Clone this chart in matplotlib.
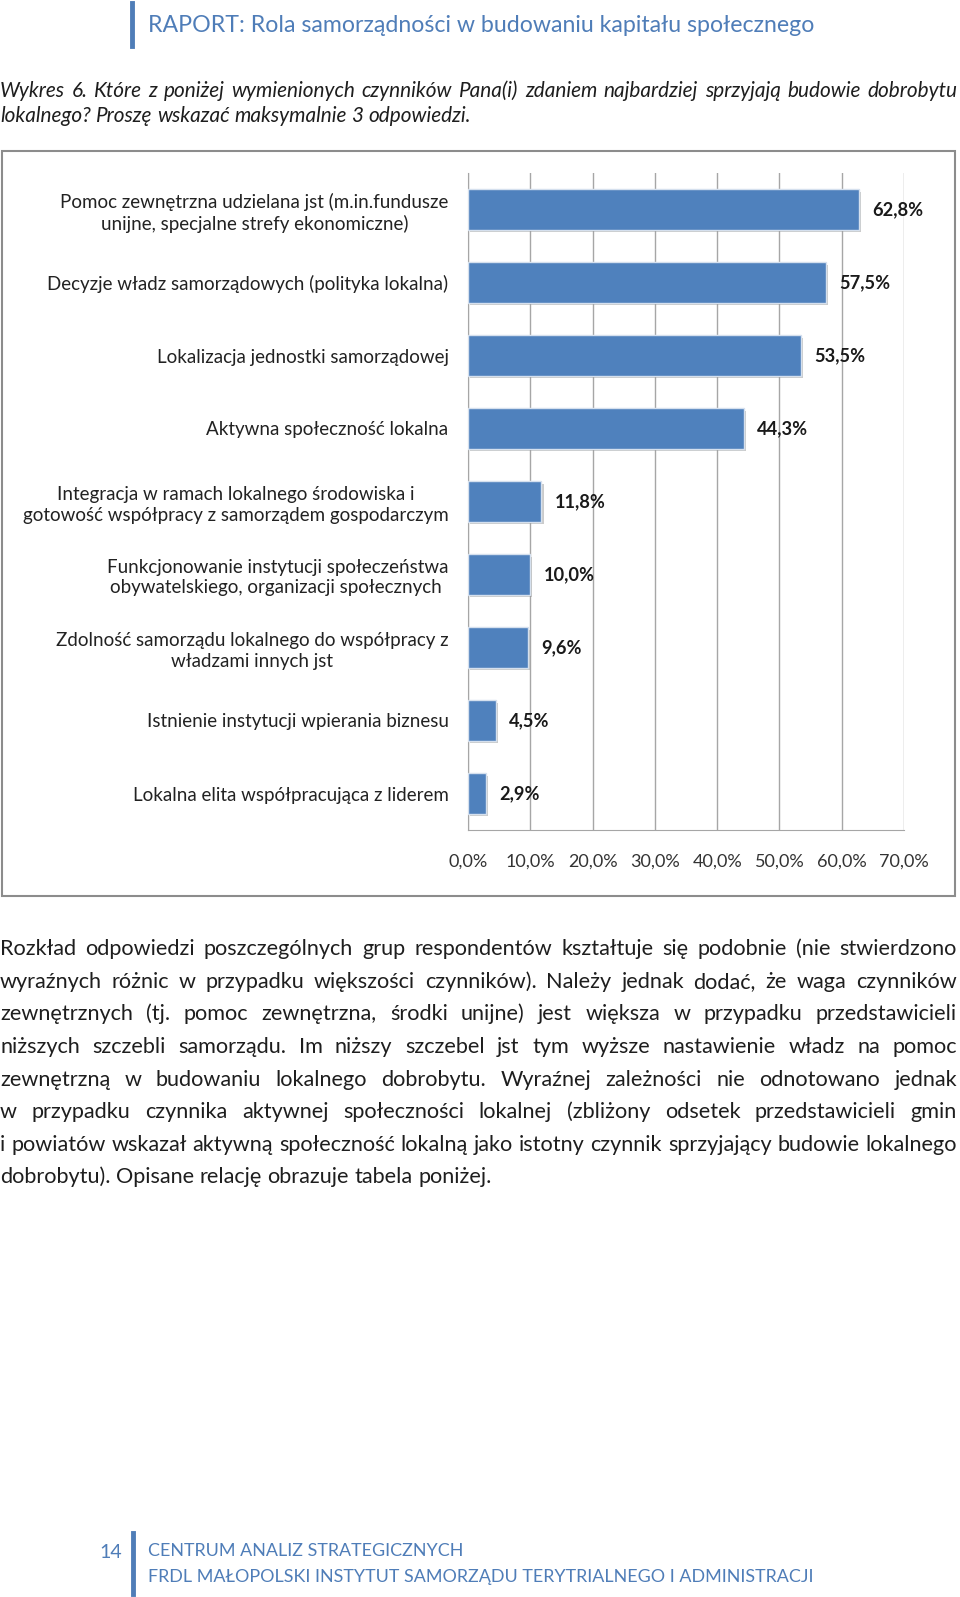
import matplotlib
matplotlib.use("Agg")
import matplotlib.pyplot as plt
from matplotlib import patheffects
from matplotlib.patches import Rectangle

plt.rcParams['font.family'] = ['Lato', 'DejaVu Sans']

W, H = 960, 1597

# data
categories = [
    "Pomoc zewnętrzna udzielana jst (m.in.fundusze\nunijne, specjalne strefy ekonomiczne)",
    "Decyzje władz samorządowych (polityka lokalna)",
    "Lokalizacja jednostki samorządowej",
    "Aktywna społeczność lokalna",
    "Integracja w ramach lokalnego środowiska i\ngotowość współpracy z samorządem gospodarczym",
    "Funkcjonowanie instytucji społeczeństwa\nobywatelskiego, organizacji społecznych ",
    "Zdolność samorządu lokalnego do współpracy z\nwładzami innych jst",
    "Istnienie instytucji wpierania biznesu",
    "Lokalna elita współpracująca z liderem",
]
values = [62.8, 57.5, 53.5, 44.3, 11.8, 10.0, 9.6, 4.5, 2.9]
x_ticks = [0, 10, 20, 30, 40, 50, 60, 70]
x_tick_labels = ["0,0%", "10,0%", "20,0%", "30,0%", "40,0%", "50,0%", "60,0%", "70,0%"]

header = "RAPORT: Rola samorządności w budowaniu kapitału społecznego"
caption_lines = [
    "Wykres 6. Które z poniżej wymienionych czynników Pana(i) zdaniem najbardziej sprzyjają budowie dobrobytu",
    "lokalnego? Proszę wskazać maksymalnie 3 odpowiedzi.",
]
paragraph_lines = [
    "Rozkład odpowiedzi poszczególnych grup respondentów kształtuje się podobnie (nie stwierdzono",
    "wyraźnych różnic w przypadku większości czynników). Należy jednak dodać, że waga czynników",
    "zewnętrznych (tj. pomoc zewnętrzna, środki unijne) jest większa w przypadku przedstawicieli",
    "niższych szczebli samorządu. Im niższy szczebel jst tym wyższe nastawienie władz na pomoc",
    "zewnętrzną w budowaniu lokalnego dobrobytu. Wyraźnej zależności nie odnotowano jednak",
    "w przypadku czynnika aktywnej społeczności lokalnej (zbliżony odsetek przedstawicieli gmin",
    "i powiatów wskazał aktywną społeczność lokalną jako istotny czynnik sprzyjający budowie lokalnego",
    "dobrobytu). Opisane relację obrazuje tabela poniżej.",
]
page_number = "14"
footer_lines = [
    "CENTRUM ANALIZ STRATEGICZNYCH",
    "FRDL MAŁOPOLSKI INSTYTUT SAMORZĄDU TERYTRIALNEGO I ADMINISTRACJI",
]

blue = "#4F7DB8"
bar_color = "#4F81BD"
text_dark = "#1E1E1E"
grid_color = "#A6A6A6"

fig = plt.figure(figsize=(W / 100, H / 100), dpi=100)
renderer = fig.canvas.get_renderer()


def fx(px):
    return px / W


def fy(py):
    return 1 - py / H


def width_of(t):
    return t.get_window_extent(renderer).width


def fit_size(s, target, **kw):
    t = fig.text(0, 0, s, fontsize=20, **kw)
    size = 20 * target / width_of(t)
    t.remove()
    return size


def justified(line, y, x0, x1, size, last=False, **kw):
    # y is the visual middle of the line; words are placed on a common baseline
    base = y + 0.33 * size * 100 / 72
    words = line.split(" ")
    objs = [fig.text(0, fy(base), w, fontsize=size, va="baseline", ha="left", **kw) for w in words]
    widths = [width_of(o) for o in objs]
    sp = fig.text(0, 0, "a a", fontsize=size, **kw)
    sp2 = fig.text(0, 0, "aa", fontsize=size, **kw)
    space = width_of(sp) - width_of(sp2)
    sp.remove()
    sp2.remove()
    if last or len(words) < 2:
        gap = space
    else:
        gap = max((x1 - x0 - sum(widths)) / (len(words) - 1), space * 0.5)
    x = x0
    for o, w in zip(objs, widths):
        o.set_x(fx(x))
        x += w + gap


# header
fig.add_artist(plt.Line2D([fx(132), fx(132)], [fy(3), fy(46)], color=blue, lw=3.5))
hs = fit_size(header, 667)
fig.text(fx(148), fy(25), header, fontsize=hs, color=blue, va="center", ha="left")

# caption
cs = fit_size(caption_lines[1], 470, style="italic")
justified(caption_lines[0], 90, 0, 957, cs, style="italic", color=text_dark)
justified(caption_lines[1], 115, 0, 957, cs, last=True, style="italic", color=text_dark)

# chart frame
fig.add_artist(Rectangle((fx(2), fy(896)), fx(953), (896 - 151) / H, transform=fig.transFigure,
                         fill=False, edgecolor="#8C8C8C", lw=1.5))

ax = fig.add_axes([fx(468), fy(830), fx(904 - 468), (830 - 173) / H])
ypos = list(range(len(values)))
bars = ax.barh(ypos, values, height=0.55, color=bar_color, edgecolor="#D5E0EE", lw=1, zorder=3)
for b in bars:
    b.set_path_effects([patheffects.SimplePatchShadow(offset=(1.5, -1.5), shadow_rgbFace="#7F7F7F", alpha=0.4),
                        patheffects.Normal()])
ax.set_xlim(0, 70)
ax.set_ylim(len(values) - 0.5, -0.5)
ax.grid(axis="x", color=grid_color, lw=1, zorder=0)
ax.set_axisbelow(True)
for side in ["top", "right"]:
    ax.spines[side].set_visible(False)
for side in ["left", "bottom"]:
    ax.spines[side].set_color(grid_color)

ts = fit_size("10,0%", 50)
ax.set_xticks(x_ticks)
ax.set_xticklabels(x_tick_labels, fontsize=ts, color="#333333")
ax.tick_params(axis="x", length=0, pad=17)

ls = fit_size("Decyzje władz samorządowych (polityka lokalna)", 401)
ax.set_yticks(ypos)
ax.set_yticklabels(categories, fontsize=ls, color="#222222", multialignment="center", linespacing=1.25)
ax.tick_params(axis="y", length=0, pad=14)

vs = fit_size("62,8%", 51, fontweight="bold")
for i, v in enumerate(values):
    ax.annotate(f"{v:.1f}%".replace(".", ","), (v, i), xytext=(9.5, 0), textcoords="offset points",
                ha="left", va="center", fontsize=vs, fontweight="bold", color="#1A1A1A")

# paragraph
ps = fit_size(paragraph_lines[-1], 493)
for k, line in enumerate(paragraph_lines):
    y = 948 + k * 32.6
    justified(line, y, 0, 957, ps, last=(k == len(paragraph_lines) - 1), color=text_dark)

# footer
fig.add_artist(plt.Line2D([fx(133), fx(133)], [fy(1533), fy(1594)], color=blue, lw=3.5))
fs = fit_size(footer_lines[1], 663)
fig.text(fx(122), fy(1553), page_number, fontsize=fs * 1.1, color=blue, va="center", ha="right")
fig.text(fx(148), fy(1551), footer_lines[0], fontsize=fs, color=blue, va="center", ha="left")
fig.text(fx(148), fy(1577), footer_lines[1], fontsize=fs, color=blue, va="center", ha="left")

fig.savefig("out.png", dpi=100)
